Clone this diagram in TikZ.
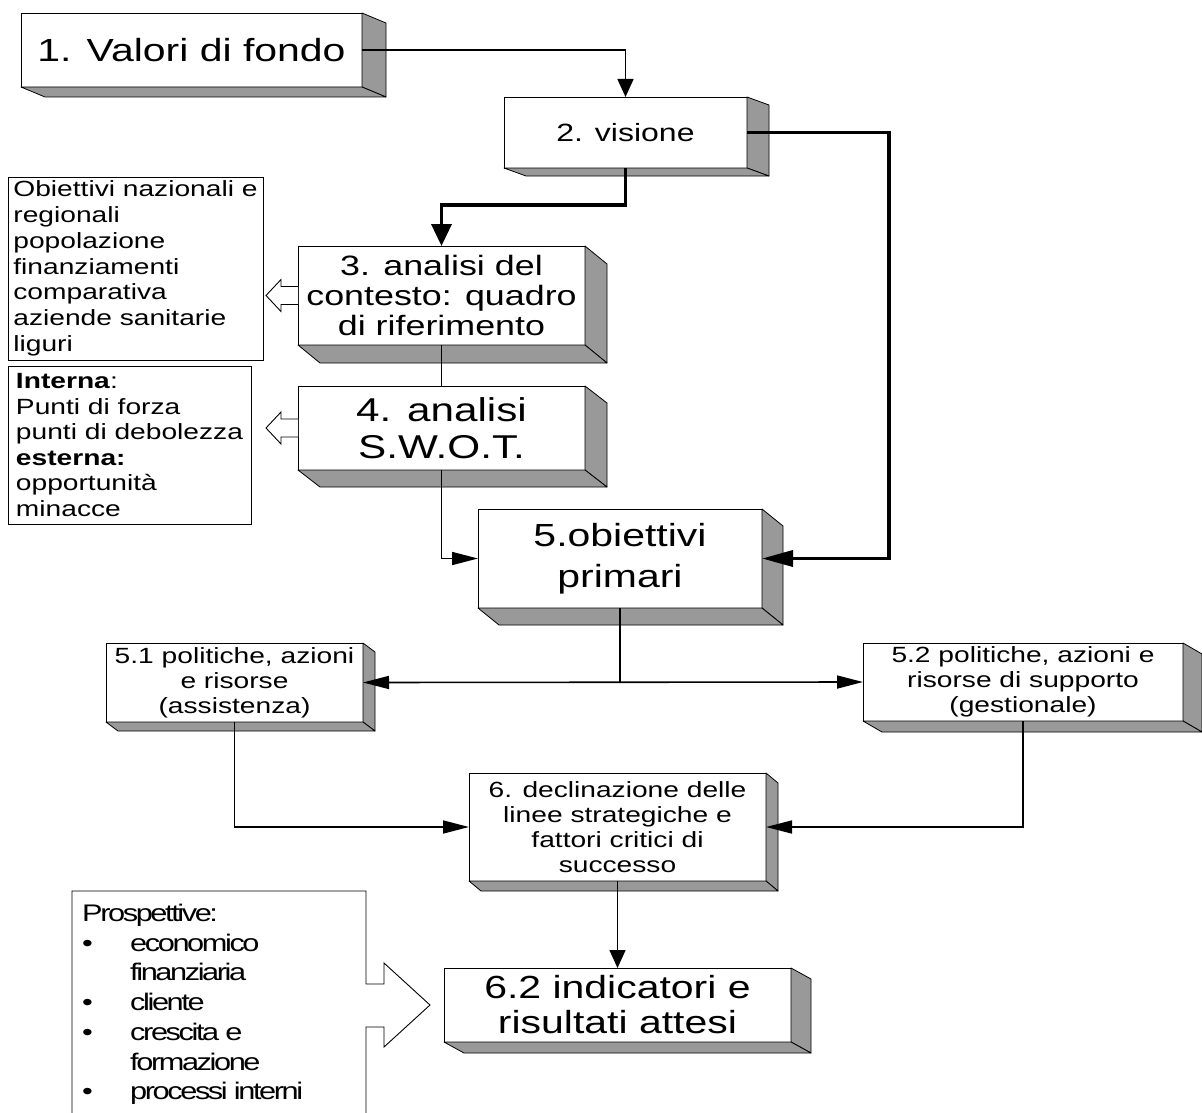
\documentclass[tikz,border=0pt]{standalone}
\usepackage{fontspec}
\setmainfont{Liberation Sans}[FakeStretch=1.28]
\newfontfamily\prospfont{Liberation Sans}[FakeStretch=1.28,LetterSpace=-10]
\usetikzlibrary{arrows.meta,calc}
\definecolor{sidegray}{RGB}{153,153,153}
\tikzset{
  front/.style={draw=black, line width=0.9pt, fill=white, inner sep=0pt, outer sep=0pt, align=center},
  infobox/.style={draw=black, line width=0.9pt, fill=white, inner sep=0pt, outer sep=0pt, align=left},
  sideface/.style={draw=black, line width=0.8pt, fill=sidegray, line join=round},
  conn/.style={line width=1.6pt},
  thickconn/.style={line width=3.6pt},
  harr/.style={-{Triangle[length=26pt,width=13pt]}},
  varr/.style={-{Triangle[length=18pt,width=16pt]}},
  thharr/.style={-{Triangle[length=31pt,width=16pt]}},
  thvarr/.style={-{Triangle[length=22pt,width=20pt]}},
  ptext/.style={anchor=base west, inner sep=0pt, font=\prospfont\fontsize{24}{28}\selectfont},
}
\newcommand\drawextrusion[3]{%
  \filldraw[sideface] (#1.north east) -- ++(#2,#3) -- ($(#1.south east)+(#2,#3)$) -- (#1.south east) -- cycle;
  \filldraw[sideface] (#1.south west) -- ++(#2,#3) -- ($(#1.south east)+(#2,#3)$) -- (#1.south east) -- cycle;
}
\newcommand\hollowleft[1]{%
  \draw[line width=0.9pt, fill=white] ($(#1.west)+(0,-9)$) -- ++(-17,0) -- ++(0,-7) -- ++(-15,16) -- ++(15,16) -- ++(0,-7) -- ++(17,0);
}
\begin{document}
\begin{tikzpicture}[x=1pt,y=-1pt]
\useasboundingbox (0,0) rectangle (1202,1113);
\fill[white] (0,0) rectangle (1202,1113);

% 3D boxes
\node[front, minimum width=341pt, minimum height=74pt, font=\fontsize{32}{36}\selectfont] (b1) at (191.5,50) {1. Valori di fondo};
\drawextrusion{b1}{24}{10}
\node[front, minimum width=243pt, minimum height=71pt, font=\fontsize{25}{28}\selectfont] (b2) at (625.5,132.5) {2. visione};
\drawextrusion{b2}{22}{8}
\node[front, minimum width=287pt, minimum height=99pt, font=\fontsize{28}{30}\selectfont] (b3) at (441.5,295.5) {3. analisi del\\contesto: quadro\\di riferimento};
\drawextrusion{b3}{22}{18}
\node[front, minimum width=287pt, minimum height=84pt, font=\fontsize{33}{37}\selectfont] (b4) at (441.5,428) {4. analisi\\S.W.O.T.};
\drawextrusion{b4}{22}{17}
\node[front, minimum width=284pt, minimum height=99pt, font=\fontsize{32}{41}\selectfont] (b5) at (620,558.5) {5.obiettivi\\primari};
\drawextrusion{b5}{21}{17}
\node[front, minimum width=257pt, minimum height=79pt, font=\fontsize{22}{25}\selectfont] (b51) at (234.5,682.5) {5.1 politiche, azioni\\e risorse\\(assistenza)};
\drawextrusion{b51}{12}{9}
\node[front, minimum width=320pt, minimum height=78pt, font=\fontsize{22}{25}\selectfont] (b52) at (1023,682) {5.2 politiche, azioni e\\risorse di supporto\\(gestionale)};
\drawextrusion{b52}{19}{11}
\node[front, minimum width=297pt, minimum height=108pt, font=\fontsize{22}{25}\selectfont] (b6) at (617.5,827) {6. declinazione delle\\linee strategiche e\\fattori critici di\\successo};
\drawextrusion{b6}{12}{10}
\node[front, minimum width=347pt, minimum height=74pt, font=\fontsize{32}{35}\selectfont] (b62) at (617.5,1005) {6.2 indicatori e\\risultati attesi};
\drawextrusion{b62}{20}{11}

% side info boxes
\node[infobox, minimum width=255pt, minimum height=183pt, font=\fontsize{22}{25.8}\selectfont] (obi) at (135.5,268.5)
  {Obiettivi nazionali e\\regionali\\popolazione\\finanziamenti\\comparativa\\aziende sanitarie\\liguri};
\node[infobox, minimum width=243pt, minimum height=158pt, font=\fontsize{22}{25.5}\selectfont] (swot) at (129.5,445)
  {\textbf{Interna}:\\Punti di forza\\punti di debolezza\\\textbf{esterna:}\\opportunità\\minacce};
\hollowleft{b3}
\hollowleft{b4}

% Prospettive callout
\draw[line width=0.9pt, fill=white] (72,1113) -- (72,891) -- (366,891) -- (366,984) -- (384,984) -- (384,963) -- (430,1005) -- (384,1047) -- (384,1027) -- (366,1027) -- (366,1113);
\node[ptext] (p0) at (82,921) {Prospettive:};
\node[ptext] (p1) at (82,951) {\makebox[48pt][l]{•}economico};
\node[ptext] (p2) at (130,980.5) {finanziaria};
\node[ptext] (p3) at (82,1010.5) {\makebox[48pt][l]{•}cliente};
\node[ptext] (p4) at (82,1040.5) {\makebox[48pt][l]{•}crescita e};
\node[ptext] (p5) at (130,1070.5) {formazione};
\node[ptext] (p6) at (82,1099.5) {\makebox[48pt][l]{•}processi interni};

% connectors
\draw[conn,varr] (b1.east) -| (b2.north);
\draw[thickconn,thvarr] (b2.south) -- ++(0,37) -| (b3.north);
\draw[thickconn,thharr] (b2.east) -- ++(142,0) |- (b5.east);
\draw[conn] (b3.south) -- (b4.north);
\draw[conn,harr] (b4.south) |- (b5.west);
\draw[conn] (b5.south) -- (b5.south |- b51.east);
\draw[conn,{Triangle[length=26pt,width=13pt]}-{Triangle[length=26pt,width=13pt]}] (b51.east) -- (b52.west);
\draw[conn,harr] (b51.south) |- (b6.west);
\draw[conn,harr] (b52.south) |- (b6.east);
\draw[conn,varr] (b6.south) -- (b62.north);
\end{tikzpicture}
\end{document}
